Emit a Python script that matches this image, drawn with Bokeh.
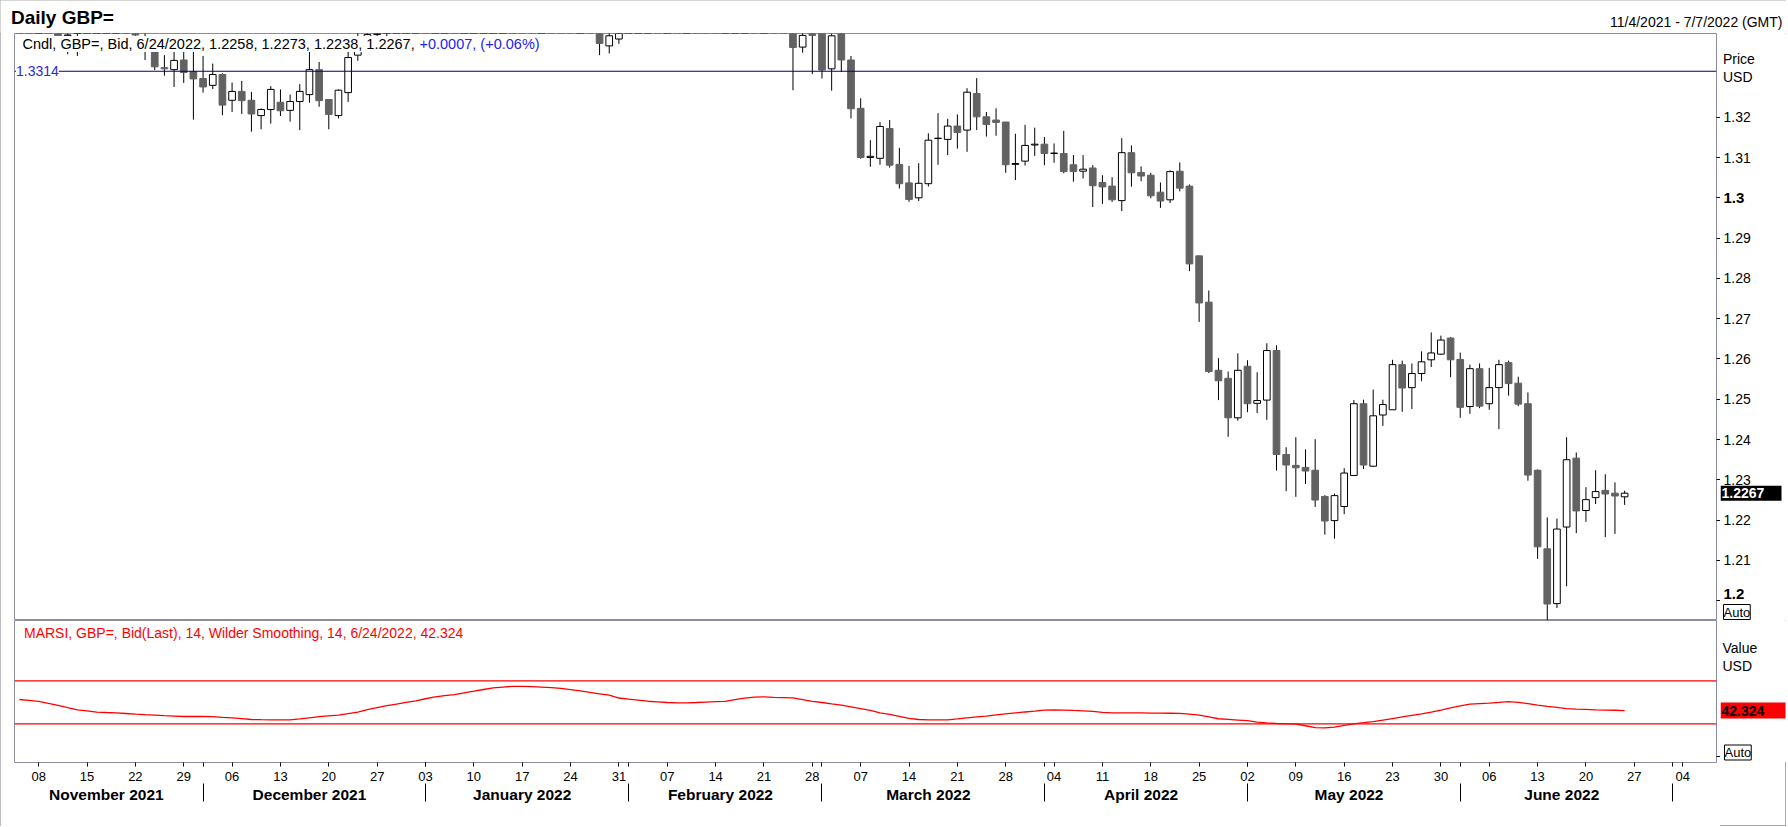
import pandas as pd
from bokeh.plotting import figure
from bokeh.layouts import column, row
from bokeh.models import Range1d, LinearAxis, FixedTicker, Label, Span
from bokeh.embed import file_html
from bokeh.resources import INLINE

# ---------------- data ----------------
open_ = [
    1.3676, 1.3497, 1.3498, 1.3570, 1.3553, 1.3402, 1.3409, 1.3418, 1.3425, 1.3443,
    1.3497, 1.3499, 1.3440, 1.3398, 1.3370, 1.3323, 1.3318, 1.3342, 1.3313, 1.3296,
    1.3279, 1.3306, 1.3242, 1.3264, 1.3242, 1.3204, 1.3219, 1.3237, 1.3217, 1.3239,
    1.3256, 1.3318, 1.3244, 1.3204, 1.3261, 1.3354, 1.3395, 1.3405, 1.3415, 1.3430,
    1.3485, 1.3500, 1.3530, 1.3480, 1.3530, 1.3555, 1.3530, 1.3585, 1.3590, 1.3655,
    1.3705, 1.3715, 1.3680, 1.3665, 1.3610, 1.3615, 1.3600, 1.3550, 1.3485, 1.3495,
    1.3460, 1.3377, 1.3394, 1.3445, 1.3505, 1.3580, 1.3595, 1.3530, 1.3535, 1.3530,
    1.3565, 1.3560, 1.3555, 1.3530, 1.3535, 1.3570, 1.3615, 1.3590, 1.3595, 1.3565,
    1.3545, 1.3374, 1.3412, 1.3415, 1.3320, 1.3415, 1.3342, 1.3222, 1.3100, 1.3098,
    1.3172, 1.3083, 1.3037, 1.3000, 1.3035, 1.3147, 1.3145, 1.3178, 1.3168, 1.3259,
    1.3201, 1.3193, 1.3188, 1.3083, 1.3091, 1.3131, 1.3133, 1.3110, 1.3110, 1.3082,
    1.3066, 1.3074, 1.3038, 1.3029, 1.2993, 1.3112, 1.3063, 1.3056, 1.3014, 1.2995,
    1.3066, 1.3029, 1.2856, 1.2741, 1.2572, 1.2552, 1.2454, 1.2582, 1.2490, 1.2498,
    1.2621, 1.2363, 1.2336, 1.2331, 1.2324, 1.2259, 1.2199, 1.2234, 1.2311, 1.2489,
    1.2334, 1.2461, 1.2474, 1.2586, 1.2529, 1.2564, 1.2598, 1.2612, 1.2652, 1.2599,
    1.2482, 1.2576, 1.2489, 1.2529, 1.2591, 1.2540, 1.2489, 1.2324, 1.2129, 1.1993,
    1.2183, 1.2354, 1.2224, 1.2256, 1.2274, 1.2267, 1.2258,
]
high = [
    1.3697, 1.3514, 1.3576, 1.3608, 1.3568, 1.3425, 1.3433, 1.3445, 1.3455, 1.3514,
    1.3514, 1.3501, 1.3466, 1.3424, 1.3380, 1.3354, 1.3362, 1.3374, 1.3370, 1.3352,
    1.3333, 1.3309, 1.3286, 1.3290, 1.3263, 1.3222, 1.3277, 1.3269, 1.3256, 1.3282,
    1.3375, 1.3337, 1.3244, 1.3269, 1.3365, 1.3410, 1.3430, 1.3440, 1.3455, 1.3495,
    1.3518, 1.3550, 1.3535, 1.3540, 1.3600, 1.3560, 1.3600, 1.3600, 1.3660, 1.3715,
    1.3745, 1.3730, 1.3700, 1.3675, 1.3645, 1.3650, 1.3605, 1.3555, 1.3520, 1.3545,
    1.3470, 1.3435, 1.3455, 1.3510, 1.3590, 1.3630, 1.3620, 1.3555, 1.3560, 1.3575,
    1.3640, 1.3580, 1.3565, 1.3545, 1.3580, 1.3645, 1.3625, 1.3640, 1.3615, 1.3600,
    1.3550, 1.3425, 1.3440, 1.3440, 1.3430, 1.3438, 1.3352, 1.3247, 1.3143, 1.3188,
    1.3193, 1.3124, 1.3079, 1.3086, 1.3160, 1.3210, 1.3196, 1.3207, 1.3272, 1.3297,
    1.3213, 1.3222, 1.3188, 1.3159, 1.3181, 1.3174, 1.3151, 1.3135, 1.3166, 1.3106,
    1.3106, 1.3081, 1.3056, 1.3051, 1.3148, 1.3130, 1.3078, 1.3062, 1.3038, 1.3068,
    1.3088, 1.3033, 1.2856, 1.2770, 1.2602, 1.2569, 1.2614, 1.2597, 1.2567, 1.2639,
    1.2634, 1.2381, 1.2406, 1.2376, 1.2401, 1.2262, 1.2266, 1.2329, 1.2498, 1.2499,
    1.2524, 1.2499, 1.2598, 1.2596, 1.2589, 1.2619, 1.2666, 1.2658, 1.2654, 1.2616,
    1.2586, 1.2589, 1.2578, 1.2598, 1.2596, 1.2556, 1.2517, 1.2326, 1.2207, 1.2204,
    1.2406, 1.2368, 1.2282, 1.2324, 1.2314, 1.2294, 1.2273,
]
low = [
    1.3492, 1.3424, 1.3486, 1.3532, 1.3394, 1.3356, 1.3352, 1.3412, 1.3412, 1.3436,
    1.3470, 1.3418, 1.3398, 1.3342, 1.3317, 1.3303, 1.3275, 1.3285, 1.3194, 1.3261,
    1.3270, 1.3205, 1.3213, 1.3208, 1.3164, 1.3170, 1.3184, 1.3203, 1.3189, 1.3168,
    1.3236, 1.3226, 1.3170, 1.3197, 1.3238, 1.3340, 1.3383, 1.3390, 1.3400, 1.3415,
    1.3460, 1.3490, 1.3432, 1.3475, 1.3518, 1.3490, 1.3520, 1.3530, 1.3580, 1.3645,
    1.3690, 1.3660, 1.3655, 1.3595, 1.3590, 1.3590, 1.3535, 1.3435, 1.3440, 1.3440,
    1.3354, 1.3358, 1.3382, 1.3430, 1.3500, 1.3520, 1.3520, 1.3490, 1.3510, 1.3520,
    1.3530, 1.3520, 1.3500, 1.3485, 1.3510, 1.3565, 1.3580, 1.3570, 1.3535, 1.3540,
    1.3267, 1.3360, 1.3307, 1.3296, 1.3266, 1.3312, 1.3197, 1.3097, 1.3077, 1.3082,
    1.3075, 1.3023, 1.2990, 1.2992, 1.3028, 1.3082, 1.3106, 1.3122, 1.3114, 1.3168,
    1.3152, 1.3154, 1.3062, 1.3044, 1.3080, 1.3104, 1.3081, 1.3087, 1.3061, 1.3040,
    1.3048, 1.2977, 1.2985, 1.2990, 1.2967, 1.3028, 1.3041, 1.2999, 1.2975, 1.2987,
    1.3016, 1.2818, 1.2692, 1.2565, 1.2498, 1.2407, 1.2447, 1.2468, 1.2466, 1.2449,
    1.2323, 1.2272, 1.2258, 1.2290, 1.2233, 1.2164, 1.2154, 1.2215, 1.2311, 1.2327,
    1.2332, 1.2434, 1.2474, 1.2469, 1.2476, 1.2545, 1.2580, 1.2610, 1.2555, 1.2454,
    1.2464, 1.2478, 1.2474, 1.2426, 1.2509, 1.2483, 1.2298, 1.2104, 1.1934, 1.1982,
    1.2036, 1.2168, 1.2196, 1.2240, 1.2158, 1.2166, 1.2238,
]
close = [
    1.3497, 1.3496, 1.3570, 1.3553, 1.3402, 1.3404, 1.3418, 1.3425, 1.3443, 1.3497,
    1.3499, 1.3440, 1.3404, 1.3380, 1.3325, 1.3320, 1.3341, 1.3311, 1.3295, 1.3275,
    1.3306, 1.3230, 1.3264, 1.3241, 1.3208, 1.3219, 1.3269, 1.3216, 1.3239, 1.3264,
    1.3318, 1.3241, 1.3207, 1.3267, 1.3348, 1.3395, 1.3405, 1.3415, 1.3430, 1.3485,
    1.3500, 1.3530, 1.3480, 1.3530, 1.3555, 1.3530, 1.3585, 1.3590, 1.3655, 1.3705,
    1.3715, 1.3680, 1.3665, 1.3610, 1.3615, 1.3600, 1.3550, 1.3485, 1.3495, 1.3460,
    1.3383, 1.3402, 1.3445, 1.3505, 1.3580, 1.3595, 1.3530, 1.3535, 1.3530, 1.3565,
    1.3560, 1.3555, 1.3530, 1.3535, 1.3570, 1.3615, 1.3590, 1.3595, 1.3565, 1.3545,
    1.3373, 1.3403, 1.3403, 1.3317, 1.3402, 1.3342, 1.3221, 1.3100, 1.3103, 1.3177,
    1.3081, 1.3035, 1.2996, 1.3036, 1.3143, 1.3148, 1.3178, 1.3162, 1.3262, 1.3201,
    1.3182, 1.3187, 1.3082, 1.3085, 1.3130, 1.3133, 1.3110, 1.3111, 1.3065, 1.3065,
    1.3071, 1.3030, 1.3027, 1.2995, 1.3112, 1.3062, 1.3054, 1.3005, 1.2992, 1.3065,
    1.3024, 1.2836, 1.2739, 1.2569, 1.2546, 1.2454, 1.2572, 1.2489, 1.2497, 1.2621,
    1.2363, 1.2337, 1.2330, 1.2322, 1.2250, 1.2198, 1.2261, 1.2317, 1.2489, 1.2337,
    1.2459, 1.2487, 1.2586, 1.2528, 1.2564, 1.2593, 1.2615, 1.2647, 1.2598, 1.2480,
    1.2576, 1.2483, 1.2529, 1.2586, 1.2539, 1.2488, 1.2312, 1.2134, 1.1992, 1.2178,
    1.2350, 1.2223, 1.2251, 1.2271, 1.2265, 1.2260, 1.2267,
]
rsi = [
    52.6, 51.7, 50.8, 49.0, 47.1, 45.0, 43.0, 42.0, 40.9, 40.5,
    40.2, 39.6, 39.0, 38.5, 38.1, 37.6, 37.2, 36.8, 36.8, 36.8,
    36.6, 36.0, 35.6, 34.8, 34.0, 33.8, 33.7, 33.7, 33.7, 34.6,
    35.6, 36.6, 37.4, 38.1, 39.5, 40.9, 43.1, 45.0, 46.9, 48.4,
    50.0, 51.4, 53.3, 55.0, 56.3, 57.2, 58.8, 60.3, 61.9, 63.4,
    64.2, 64.9, 64.8, 64.5, 64.1, 63.6, 62.9, 61.8, 60.6, 59.2,
    57.9, 56.6, 54.0, 53.0, 52.0, 51.0, 50.4, 49.8, 49.5, 49.5,
    49.8, 50.2, 50.6, 50.9, 52.5, 53.8, 54.9, 55.0, 54.6, 54.4,
    54.1, 52.5, 50.8, 49.8, 48.5, 47.3, 45.8, 44.1, 42.4, 40.2,
    38.7, 36.9, 35.0, 34.0, 33.7, 33.7, 33.7, 34.6, 35.6, 36.4,
    37.2, 38.3, 39.2, 40.1, 41.0, 41.8, 42.7, 43.0, 42.8, 42.4,
    42.1, 41.6, 40.6, 40.2, 40.2, 40.2, 40.1, 40.0, 39.9, 39.8,
    39.7, 39.0, 38.1, 36.5, 34.7, 34.1, 33.5, 32.9, 31.6, 30.8,
    30.3, 30.0, 29.7, 28.2, 26.5, 26.3, 27.0, 28.5, 30.0, 31.0,
    32.1, 33.4, 34.9, 36.4, 37.9, 39.3, 40.8, 42.7, 44.8, 46.6,
    48.3, 48.8, 49.3, 49.9, 50.7, 50.0, 48.7, 47.4, 46.2, 45.3,
    44.2, 43.7, 43.4, 43.0, 42.8, 42.6, 42.324,
]
price_ticks = [1.20, 1.21, 1.22, 1.23, 1.24, 1.25, 1.26, 1.27, 1.28, 1.29, 1.30, 1.31, 1.32]
bold_ticks = [1.20, 1.30]
ref_level = 1.3314
rsi_bands = [70, 30]
start_date, end_date = "2021-11-04", "2022-07-07"

assert len(open_) == len(high) == len(low) == len(close) == len(rsi)

# ---------------- derived axis info ----------------
dates = pd.bdate_range(start_date, periods=len(close))
axis_dates = pd.bdate_range(start_date, end_date)
xs = list(range(len(close)))

mon_idx = [i for i, d in enumerate(axis_dates) if d.dayofweek == 0]
day_labels = {i: f"{axis_dates[i].day:02d}" for i in mon_idx}
month_starts = [i for i in range(1, len(axis_dates)) if axis_dates[i].month != axis_dates[i - 1].month]
bounds = [-0.5] + [s - 0.5 for s in month_starts] + [len(axis_dates) - 0.5]
seg_first = [0] + month_starts
month_centers, month_labels = [], {}
for k in range(len(bounds) - 1):
    if bounds[k + 1] - bounds[k] < 10:
        continue
    c = (bounds[k] + bounds[k + 1]) / 2
    month_centers.append(c)
    month_labels[c] = axis_dates[seg_first[k]].strftime("%B %Y")

# ---------------- layout geometry (page pixels) ----------------
FONT = "Liberation Sans"
FRAME_COLOR = "#8d8d9d"
PAGE_W, PAGE_H = 1786, 826
FRAME_L, FRAME_W = 14, 1702
TICK = 4                                   # width of the tick-only right axes
SIDE_W = PAGE_W - FRAME_L - FRAME_W - TICK  # width of the right-hand text strips
SIDE_L = FRAME_L + FRAME_W + TICK
X_LO, X_HI = -0.5, len(axis_dates) - 0.5
HEAD_H = 33
P1_TOP, P1_H = 33, 587
Y1_LO, Y1_HI = 1.19511, 1.34077
P2_TOP, P2_H = 620, 142
Y2_LO, Y2_HI = -6.0, 126.1


def add_label(p, text, x, y, size=14, color="black", bold=False, align="left",
              y_units="screen", **kw):
    p.add_layout(Label(x=x, y=y, x_units="screen", y_units=y_units, text=text,
                       text_font=FONT, text_font_size=f"{size}px",
                       text_color=color, text_font_style="bold" if bold else "normal",
                       text_align=align, text_baseline="middle", **kw))


def blank_fig(w, h, xr=None, yr=None):
    f = figure(frame_width=w, frame_height=h, x_range=xr or Range1d(0, w),
               y_range=yr or Range1d(0, h), x_axis_location=None, y_axis_location=None,
               toolbar_location=None, output_backend="svg", min_border=0,
               outline_line_color=None, background_fill_color="white")
    f.grid.visible = False
    return f


xr = Range1d(X_LO, X_HI)
yr1 = Range1d(Y1_LO, Y1_HI)
yr2 = Range1d(Y2_LO, Y2_HI)

# ---------------- header strip ----------------
head = blank_fig(PAGE_W, HEAD_H)
add_label(head, "Daily GBP=", 10.5, HEAD_H - 17, size=19, bold=True)
d0, d1 = axis_dates[0], axis_dates[-1]
add_label(head, f"{d0.month}/{d0.day}/{d0.year} - {d1.month}/{d1.day}/{d1.year} (GMT)",
          1782, HEAD_H - 21.5, align="right")

# ---------------- price pane ----------------
p1 = figure(frame_width=FRAME_W, frame_height=P1_H, x_range=xr, y_range=yr1,
            x_axis_location=None, y_axis_location="right", toolbar_location=None,
            output_backend="svg", min_border_left=FRAME_L, min_border_right=0,
            min_border_top=0, min_border_bottom=0,
            outline_line_color=FRAME_COLOR, background_fill_color="white")
p1.grid.visible = False
ya = p1.yaxis[0]
ya.ticker = FixedTicker(ticks=price_ticks)
ya.major_label_overrides = {t: "" for t in price_ticks}
ya.axis_line_color = None
ya.major_tick_out = TICK
ya.major_tick_in = 0
ya.major_tick_line_color = "black"
ya.minor_tick_line_color = None
ya.major_label_standoff = 0

up = [i for i in xs if close[i] >= open_[i]]
dn = [i for i in xs if close[i] < open_[i]]
p1.segment(x0=xs, y0=low, x1=xs, y1=high, line_color="black", line_width=1)
p1.vbar(x=dn, width=0.69, top=[open_[i] for i in dn], bottom=[close[i] for i in dn],
        fill_color="#626262", line_color="#626262", line_width=1)
p1.vbar(x=up, width=0.69, top=[close[i] for i in up], bottom=[open_[i] for i in up],
        fill_color="white", line_color="black", line_width=1)

p1.add_layout(Span(location=ref_level, dimension="width", line_color="#000080", line_width=1))
add_label(p1, f"{ref_level:.4f}", 1.5, ref_level, color="#2b2bd0", y_units="data",
          background_fill_color="white", background_fill_alpha=1.0)

last = dates[-1]
dstr = f"{last.month}/{last.day}/{last.year}"
chg = close[-1] - close[-2]
pct = chg / close[-2] * 100
leg_y = P1_TOP + P1_H - 43.5
add_label(p1, f"Cndl, GBP=, Bid, {dstr}, {open_[-1]:.4f}, {high[-1]:.4f}, {low[-1]:.4f}, {close[-1]:.4f},",
          22 - FRAME_L, leg_y, size=14.5, background_fill_color="white", background_fill_alpha=1.0)
add_label(p1, f"{chg:+.4f}, ({pct:+.2f}%)", 419 - FRAME_L, leg_y, size=14.5, color="#2323f0",
          background_fill_color="white", background_fill_alpha=1.0)

# right strip of the price pane (axis texts)
side1 = blank_fig(SIDE_W, P1_H, yr=yr1)
for t in price_ticks:
    is_bold = t in bold_ticks
    add_label(side1, f"{t:.2f}".rstrip("0") if is_bold else f"{t:.2f}",
              1723 - SIDE_L, t, y_units="data", bold=is_bold,
              size=15 if is_bold else 14,
              y_offset=7 if t == min(price_ticks) else 0)
add_label(side1, "Price", 1722.5 - SIDE_L, P1_TOP + P1_H - 58.5)
add_label(side1, "USD", 1722.5 - SIDE_L, P1_TOP + P1_H - 76)
side1.rect(x=[30.5], y=[close[-1]], width=61, height=15, height_units="screen",
           fill_color="black", line_color=None)
add_label(side1, f"{close[-1]:.4f}", 1, close[-1], y_units="data", size=14, bold=True, color="white")
add_label(side1, "Auto", 1723 - SIDE_L, 8.5, size=13, border_line_color="black",
          background_fill_color="white", background_fill_alpha=1.0)

# ---------------- RSI pane ----------------
p2 = figure(frame_width=FRAME_W, frame_height=P2_H, x_range=xr, y_range=yr2,
            y_axis_location="right", toolbar_location=None, output_backend="svg",
            min_border_left=FRAME_L, min_border_right=0, min_border_top=0,
            min_border_bottom=PAGE_H - P2_TOP - P2_H,
            outline_line_color=FRAME_COLOR, background_fill_color="white")
p2.grid.visible = False
ry = p2.yaxis[0]
ry.ticker = FixedTicker(ticks=[0])
ry.major_label_overrides = {0: ""}
ry.axis_line_color = None
ry.major_tick_out = TICK
ry.major_tick_in = 0
ry.major_tick_line_color = "black"
ry.minor_tick_line_color = None
ry.major_label_standoff = 0

xa = p2.xaxis[0]
xa.ticker = FixedTicker(ticks=mon_idx, minor_ticks=month_starts)
xa.major_label_overrides = day_labels
xa.major_label_text_font = FONT
xa.major_label_text_font_size = "13px"
xa.major_label_text_color = "black"
xa.axis_line_color = None
xa.major_tick_out = 4
xa.major_tick_in = 0
xa.minor_tick_out = 4
xa.minor_tick_in = 0
xa.major_tick_line_color = "black"
xa.minor_tick_line_color = "black"
xa.major_label_standoff = 5

xb = LinearAxis(ticker=FixedTicker(ticks=month_centers, minor_ticks=month_starts),
                major_label_overrides=month_labels)
xb.major_label_text_font = FONT
xb.major_label_text_font_size = "15.5px"
xb.major_label_text_font_style = "bold"
xb.major_label_text_color = "black"
xb.axis_line_color = None
xb.major_tick_line_color = None
xb.major_tick_out = 0
xb.minor_tick_out = 18
xb.minor_tick_in = 0
xb.minor_tick_line_color = "black"
xb.major_label_standoff = -16
p2.add_layout(xb, "below")

for lvl in rsi_bands:
    p2.add_layout(Span(location=lvl, dimension="width", line_color="#ff0000", line_width=1.3))
p2.line(xs, rsi, line_color="#ff0000", line_width=1.3)

add_label(p2, f"MARSI, GBP=, Bid(Last),  14, Wilder Smoothing, 14, {dstr}, {rsi[-1]:.3f}",
          23.5 - FRAME_L, P2_TOP + P2_H - 632, color="#ff0000")

# right strip of the RSI pane
side2 = blank_fig(SIDE_W, P2_H, yr=yr2)
add_label(side2, "Value", 1722 - SIDE_L, P2_TOP + P2_H - 647.5)
add_label(side2, "USD", 1722 - SIDE_L, P2_TOP + P2_H - 665)
side2.rect(x=[32.5], y=[rsi[-1]], width=65, height=16, height_units="screen",
           fill_color="#ff0000", line_color=None)
add_label(side2, f"{rsi[-1]:.3f}", 1, rsi[-1], y_units="data", size=14, bold=True, color="black")
add_label(side2, "Auto", 1724 - SIDE_L, 10, size=13, border_line_color="black",
          background_fill_color="white", background_fill_alpha=1.0)

layout = column(head, row(p1, side1), row(p2, side2),
                styles={"outline": "1px solid #a8a8a8", "outline-offset": "-1px"})
open("out.html", "w").write(file_html(layout, INLINE))
